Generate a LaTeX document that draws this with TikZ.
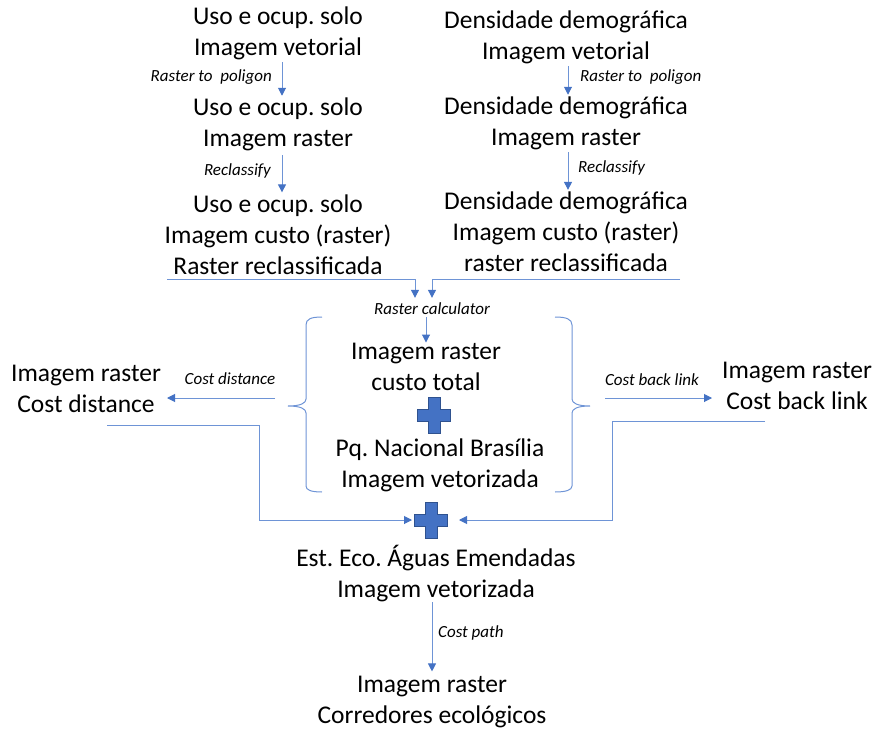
\documentclass[tikz,border=0pt]{standalone}
\usepackage{fontspec}
\setmainfont{Carlito}
\usetikzlibrary{arrows.meta,calc}
\frenchspacing
\definecolor{lc}{RGB}{110,148,214}
\definecolor{ac}{RGB}{68,114,196}
\definecolor{pf}{RGB}{68,114,196}
\definecolor{pd}{RGB}{47,82,143}
\tikzset{
  txt/.style={font=\fontsize{25.5}{31}\selectfont\frenchspacing, align=center, inner sep=0pt},
  lbl/.style={font=\fontsize{17}{20}\selectfont\itshape, inner sep=0pt},
  con/.style={draw=lc, line width=1pt},
  arr/.style={con, -{Triangle[length=8pt,width=8pt,color=ac]}},
  crossmark/.pic={\draw[fill=pf, draw=pd, line width=0.8pt]
    (-16.5,-6) -- (-6,-6) -- (-6,-18) -- (6,-18) -- (6,-6) -- (16.5,-6) -- (16.5,6)
    -- (6,6) -- (6,18) -- (-6,18) -- (-6,6) -- (-16.5,6) -- cycle;}
}
\begin{document}
\begin{tikzpicture}[x=1pt,y=-1pt]
\useasboundingbox (0,0) rectangle (875,733);
% text nodes
\node[txt] (u1) at (278,33.5) {Uso e ocup. solo\\Imagem vetorial};
\node[txt] (u2) at (278,124.5) {Uso e ocup. solo\\Imagem raster};
\node[txt] (u3) at (278,234.5) {Uso e ocup. solo\\Imagem custo (raster)\\Raster reclassificada};
\node[txt] (d1) at (566,37.5) {Densidade demográfica\\Imagem vetorial};
\node[txt] (d2) at (566,123.5) {Densidade demográfica\\Imagem raster};
\node[txt] (d3) at (566,232) {Densidade demográfica\\Imagem custo (raster)\\raster reclassificada};
\node[txt] (c1) at (426,366.5) {Imagem raster\\custo total};
\node[txt] (c2) at (440,465) {Pq. Nacional Brasília\\Imagem vetorizada};
\node[txt] (L) at (86,389) {Imagem raster\\Cost distance};
\node[txt] (R) at (797,385.5) {Imagem raster\\Cost back link};
\node[txt] (e) at (436,573.5) {Est. Eco. Águas Emendadas\\Imagem vetorizada};
\node[txt] (f) at (432,702.5) {Imagem raster\\Corredores ecológicos};
% labels
\node[lbl, anchor=east] (l1) at (272,77) {Raster to~~poligon};
\node[lbl, anchor=east] (l2) at (271,171) {Reclassify};
\node[lbl, anchor=west] (r1) at (580,77) {Raster to~~poligon};
\node[lbl, anchor=west] (r2) at (578,168) {Reclassify};
\node[lbl] (rc) at (432,309) {Raster calculator};
\node[lbl] (cd) at (230,379) {Cost distance};
\node[lbl] (cb) at (652,380) {Cost back link};
\node[lbl, anchor=west] (cp) at (438,633) {Cost path};
% plus signs
\pic at (434,415) {crossmark};
\coordinate (p1) at (434,415);
\pic at (431,520) {crossmark};
\coordinate (p2) at (431,520);
% vertical arrows
\draw[arr] ([yshift=-2pt]u1.south -| 282,0) -- ([yshift=2pt]u2.north -| 282,0);
\draw[arr] ([yshift=-4pt]u2.south -| 282,0) -- ([yshift=2pt]u3.north -| 282,0);
\draw[arr] ([yshift=-2pt]d1.south -| 568,0) -- ([yshift=2pt]d2.north -| 568,0);
\draw[arr] ([yshift=-2pt]d2.south -| 568,0) -- ([yshift=2pt]d3.north -| 568,0);
\draw[arr] ([yshift=-2pt]rc.south -| 426,0) -- (c1.north -| 426,0);
\draw[arr] (e.south -| 432,0) -- ([yshift=5pt]f.north -| 432,0);
% lines to raster calculator
\coordinate (ua) at (167,279);
\coordinate (da) at (680,279);
\draw[arr] (ua) -| ([yshift=5pt]rc.north -| 415,0);
\draw[arr] (da) -| ([yshift=5pt]rc.north -| 432,0);
% braces
\draw[con] (322,317) .. controls (311,317) and (306,319) .. (306,325) -- (306,399)
  .. controls (306,403) and (301,406) .. (288,406)
  .. controls (301,406) and (306,409) .. (306,413) -- (306,486)
  .. controls (306,490) and (311,492) .. (322,492);
\draw[con] (555,317) .. controls (566,317) and (572,319) .. (572,325) -- (572,399)
  .. controls (572,403) and (577,406) .. (590,406)
  .. controls (577,406) and (572,409) .. (572,413) -- (572,486)
  .. controls (572,490) and (566,492) .. (555,492);
% side arrows
\coordinate (bl) at (275,398);
\coordinate (br) at (605,398);
\draw[arr] (bl) -- (167,398);
\draw[arr] (br) -- (712,398);
% lines to second plus
\coordinate (Ls) at (107,425);
\coordinate (Rs) at (765,421);
\draw[arr] (Ls) -| (259,520) -- ([xshift=-19pt]p2);
\draw[arr] (Rs) -| (612,520) -- ([xshift=28pt]p2);
\end{tikzpicture}
\end{document}
